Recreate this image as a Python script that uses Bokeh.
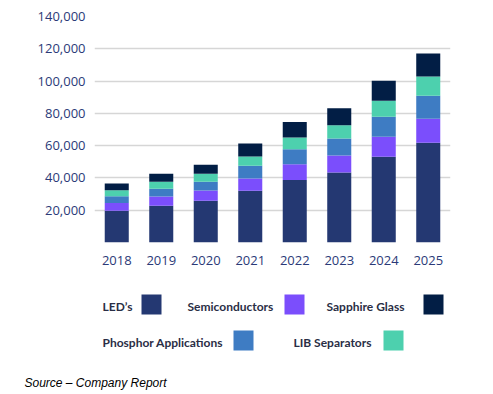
from bokeh.plotting import figure
from bokeh.models import FixedTicker, NumeralTickFormatter, Range1d, ColumnDataSource, FactorRange
from bokeh.embed import file_html
from bokeh.resources import INLINE
from bokeh.core.properties import value

years = ["2018", "2019", "2020", "2021", "2022", "2023", "2024", "2025"]
leds = [19600, 22700, 25800, 32000, 38700, 43400, 53100, 61800]
semiconductors = [4800, 5800, 6400, 7600, 9700, 10500, 12400, 14900]
phosphor = [4300, 4800, 5400, 7900, 9300, 10500, 12400, 14200]
lib_separators = [3700, 4300, 5000, 5800, 7400, 8300, 9900, 12000]
sapphire = [4100, 5000, 5600, 8000, 9500, 10500, 12400, 14200]
y_ticks = [0, 20000, 40000, 60000, 80000, 100000, 120000, 140000]

series = ["leds", "semi", "phos", "lib", "sapph"]
colors = ["#243872", "#7b4efc", "#3e7cc3", "#4dd0ae", "#021e45"]

src = ColumnDataSource(dict(year=years, leds=leds, semi=semiconductors,
                            phos=phosphor, lib=lib_separators, sapph=sapphire))

FONT = "Open Sans"
AX_COLOR = "#2b3a78"

p = figure(x_range=FactorRange(*years, range_padding=0), y_range=Range1d(0, 140000),
           width=485, height=283, output_backend="svg", toolbar_location=None,
           min_border_left=94, min_border_right=35, min_border_top=16, min_border_bottom=41)
p.vbar_stack(series, x="year", width=0.54, color=colors, source=src, line_width=0)

p.outline_line_color = None
p.xgrid.grid_line_color = None
p.ygrid.grid_line_color = "#d6d6d6"
p.ygrid.grid_line_width = 1.5

p.yaxis.ticker = FixedTicker(ticks=y_ticks)
p.yaxis.formatter = NumeralTickFormatter(format="0,0")
p.yaxis.major_label_overrides = {0: ""}
for ax in (p.xaxis[0], p.yaxis[0]):
    ax.axis_line_color = None
    ax.major_tick_line_color = None
    ax.minor_tick_line_color = None
    ax.major_tick_out = 0
    ax.major_tick_in = 0
    ax.major_label_text_font = FONT
    ax.major_label_text_font_size = "13px"
    ax.major_label_text_color = AX_COLOR
p.yaxis.major_label_standoff = 9
p.xaxis.major_label_standoff = 13

# legend panel
legend_labels = ["LED\u2019s", "Semiconductors", "Sapphire Glass", "Phosphor Applications", "LIB Separators"]
legend_colors = [colors[0], colors[1], colors[4], colors[2], colors[3]]
label_x = [102, 187, 326, 102, 293]
swatch_x = [151, 294, 433, 243, 393]
row_y = [21, 21, 21, 57, 57]

lg = figure(width=485, height=111, x_range=Range1d(0, 485), y_range=Range1d(111, 0),
            output_backend="svg", toolbar_location=None, min_border=0,
            x_axis_location=None, y_axis_location=None)
lg.outline_line_color = None
lg.grid.visible = False
lg.rect(x=swatch_x, y=row_y, width=20, height=20, color=legend_colors, line_width=0)
lg.text(x=label_x, y=[r + 1.5 for r in row_y], text=legend_labels, text_font=value("Lato"),
        text_font_size="12px", text_font_style="bold", text_color="#2a2e45",
        text_baseline="middle", text_align="left")
lg.text(x=[24], y=[99], text=["Source \u2013 Company Report"], text_font=value("Liberation Sans"),
        text_font_size="12px", text_font_style="italic", text_color="#000000",
        text_baseline="middle", text_align="left")

open("out.html", "w").write(file_html([p, lg], INLINE))
